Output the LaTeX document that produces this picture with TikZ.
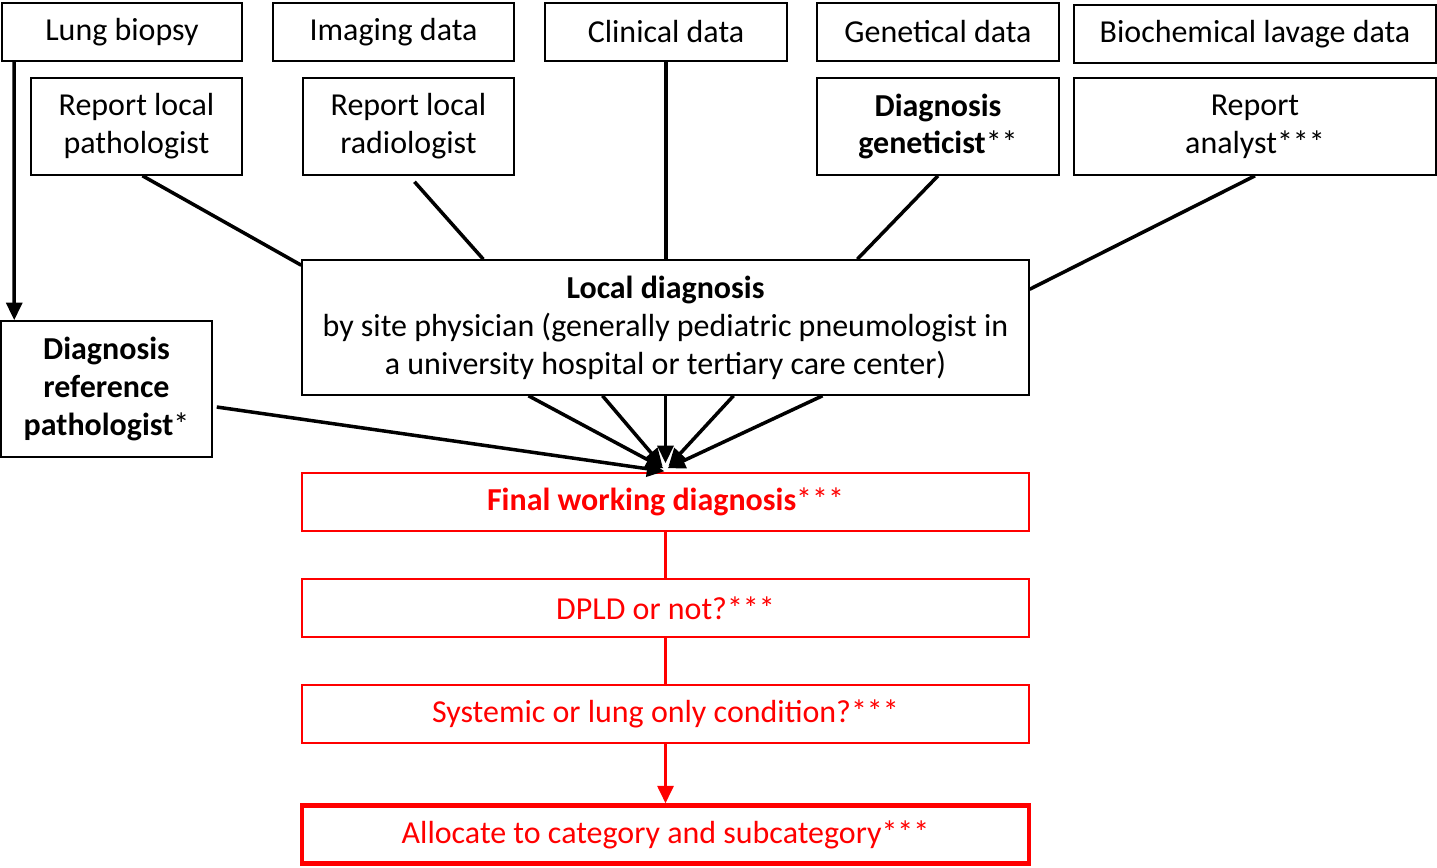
\documentclass[tikz,border=0pt]{standalone}
\usepackage{fontspec}
\setmainfont{Carlito}
\usetikzlibrary{arrows.meta, positioning, calc}
\definecolor{flowred}{RGB}{255, 0, 0}
\tikzset{
  databox/.style={draw, line width=0.9pt, align=center, inner sep=0pt, minimum height=1.16cm},
  reportbox/.style={draw, line width=0.9pt, align=center, inner sep=0pt, minimum height=1.94cm},
  stepbox/.style={draw=flowred, text=flowred, line width=0.9pt, align=center, inner sep=0pt, minimum width=14.54cm, minimum height=1.16cm},
  feed/.style={line width=2pt},
  feedarrow/.style={line width=2pt, -{Triangle[length=10pt, width=9pt]}},
  redarrow/.style={line width=2pt, flowred, -{Triangle[length=10pt, width=9pt]}}
}

\begin{document}
\begin{tikzpicture}[x=0.02cm, y=-0.02cm, font=\fontsize{18.2}{21.6}\selectfont]
  \useasboundingbox (0,0) rectangle (1437,867);

  % Data sources
  \node[databox, minimum width=4.8cm] (biopsy) at (122, 32) {Lung biopsy};
  \node[databox, minimum width=4.82cm] (imaging) at (393.5, 32) {Imaging data};
  \node[databox, minimum width=4.84cm] (clinical) at (666, 32) {Clinical data};
  \node[databox, minimum width=4.84cm] (genetic) at (938, 32) {Genetical data};
  \node[databox, minimum width=7.24cm] (lavage) at (1255, 34) {Biochemical lavage data};

  % Reports
  \node[reportbox, minimum width=4.22cm] (pathrep) at (136.5, 126.5) {Report local\\pathologist};
  \node[reportbox, minimum width=4.22cm] (radrep) at (408.5, 126.5) {Report local\\radiologist};
  \node[reportbox, minimum width=4.84cm] (genrep) at (938, 126.5) {\textbf{Diagnosis}\\\textbf{geneticist}**};
  \node[reportbox, minimum width=7.24cm] (anarep) at (1255, 126.5) {Report\\analyst***};

  % Local diagnosis
  \node[draw, line width=0.9pt, align=center, inner sep=0pt, minimum width=14.54cm, minimum height=2.7cm] (local) at (665.5, 327.5)
    {\textbf{Local diagnosis}\\by site physician (generally pediatric pneumologist in\\a university hospital or tertiary care center)};

  % Reference pathologist
  \node[draw, line width=0.9pt, align=center, inner sep=0pt, minimum width=4.22cm, minimum height=2.72cm] (refpath) at (106.5, 389)
    {\textbf{Diagnosis}\\\textbf{reference}\\\textbf{pathologist}*};

  % Red steps
  \node[stepbox] (final) at (665.5, 502) {\textbf{Final working diagnosis}***};
  \node[stepbox] (dpld) at (665.5, 608) {DPLD or not?***};
  \node[stepbox] (systemic) at (665.5, 714) {Systemic or lung only condition?***};
  \node[stepbox, line width=2.4pt] (allocate) at (665.5, 834.5) {Allocate to category and subcategory***};

  % Inputs to local diagnosis
  \draw[feed] ($(pathrep.south)+(6,0)$) -- ($(local.north west)+(0,6)$);
  \draw[feed] ($(radrep.south)+(6,6)$) -- ($(local.north west)+(182,0)$);
  \draw[feed] (clinical.south) -- (clinical.south |- local.north);
  \draw[feed] (genrep.south) -- ($(local.north west)+(556,0)$);
  \draw[feed] (anarep.south) -- ($(local.north east)+(0,30)$);

  % Biopsy to reference pathologist
  \draw[feedarrow] ($(biopsy.south west)+(13,0)$) -- ($(refpath.north west)+(14,0)$);

  % Into final working diagnosis
  \draw[feedarrow] ($(refpath.east)+(4,18)$) -- ($(final.north)+(-1,-1)$);
  \draw[feedarrow] ($(local.south)+(-137,0)$) -- ($(final.north)+(-2,-4)$);
  \draw[feedarrow] ($(local.south)+(-63,0)$) -- ($(final.north)+(-3,-6)$);
  \draw[feedarrow] (local.south) -- ($(final.north)+(0,-9)$);
  \draw[feedarrow] ($(local.south)+(68,0)$) -- ($(final.north)+(3,-6)$);
  \draw[feedarrow] ($(local.south)+(157,0)$) -- ($(final.north)+(2,-4)$);

  % Red chain
  \draw[feed, flowred] (final) -- (dpld);
  \draw[feed, flowred] (dpld) -- (systemic);
  \draw[redarrow] (systemic) -- (allocate);
\end{tikzpicture}
\end{document}
